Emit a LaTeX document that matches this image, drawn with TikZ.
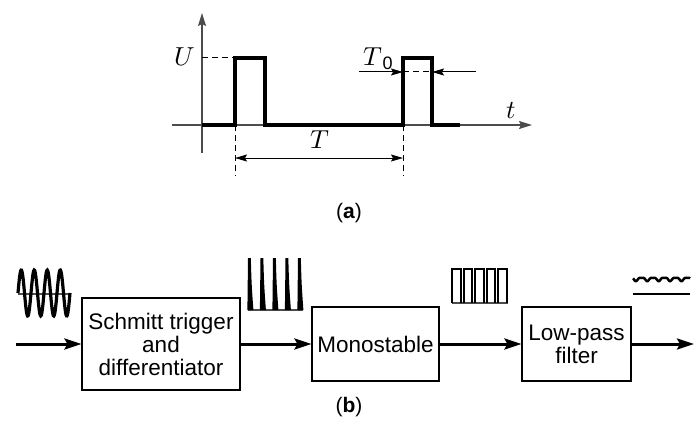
\documentclass[tikz,border=0pt]{standalone}
\usepackage{fontspec}
\setmainfont{Liberation Sans}
\usepackage{unicode-math}
\setmathfont{Latin Modern Math}
\usetikzlibrary{arrows.meta}
\tikzset{
  smalltip/.tip={Stealth[length=12pt,width=7pt,inset=2pt]},
  bigtip/.tip={Stealth[length=17pt,width=11pt,inset=3pt]},
  axtip/.tip={Stealth[length=13pt,width=8pt,inset=2pt]}
}
\begin{document}
\begin{tikzpicture}[x=1pt,y=-1pt,
  axis/.style={line width=1.3pt,black!70},
  signal/.style={line width=3.6pt,line join=miter,line cap=butt},
  dim/.style={line width=1pt,dash pattern=on 6pt off 4pt},
  dimarrow/.style={line width=1pt},
  blockbox/.style={draw,line width=1.1pt,align=center,font=\fontsize{22.5}{23}\selectfont,inner sep=0pt},
  flow/.style={line width=3pt,-bigtip},
  lbl/.style={font=\fontsize{26}{28}\selectfont},
  captext/.style={font=\fontsize{21}{24}\selectfont}]
\useasboundingbox (0,0) rectangle (695,425);
% ---------- (a) ----------
\coordinate (o) at (202,125);
\coordinate (ytop) at (202,13);
\coordinate (ybot) at (202,153);
\coordinate (xl) at (172,125);
\coordinate (xr) at (532,125);
\draw[axis,-axtip] (ybot) -- (ytop);
\draw[axis,-axtip] (xl) -- (xr);
\draw[signal] (202,125) -- (235,125) -- (235,58) -- (265,58) -- (265,125)
  -- (403,125) -- (403,58) -- (432,58) -- (432,125) -- (460,125);
\draw[dim] (202,58) -- (235,58);
\node[lbl] (U) at (185,57) {$U$};
\node[lbl] (tl) at (511,111) {$t$};
% T dimension
\coordinate (d1t) at (235,125); \coordinate (d1b) at (235,176);
\coordinate (d2t) at (403,125); \coordinate (d2b) at (403,176);
\draw[dim] (d1t) -- (d1b);
\draw[dim] (d2t) -- (d2b);
\coordinate (ta) at (235,158); \coordinate (tb) at (403,158);
\draw[dimarrow,smalltip-smalltip] (ta) -- (tb);
\node[lbl] (T) at (320,140) {$T$};
% T0
\coordinate (t0a) at (359,72); \coordinate (t0b) at (403,72);
\coordinate (t0c) at (432,72); \coordinate (t0d) at (476,72);
\draw[dimarrow,-smalltip] (t0a) -- (t0b);
\draw[dimarrow,-smalltip] (t0d) -- (t0c);
\draw[dim] (t0b) -- (t0c);
\node[lbl] (T0) at (378,59) {$T$\raisebox{-4pt}{\fontsize{18}{20}\selectfont 0}};
\node[captext] (capa) at (349,213) {(\textbf{a})};
% ---------- (b) ----------
\node[blockbox,minimum width=158pt,minimum height=92pt] (st) at (161,344)
  {Schmitt trigger\\and\\differentiator};
\node[blockbox,minimum width=127pt,minimum height=74pt] (mono) at (375.5,344) {Monostable};
\node[blockbox,minimum width=109pt,minimum height=74pt] (lp) at (576.5,344) {Low-pass\\filter};
\coordinate (in) at (16,344);
\coordinate (out) at (694,344);
\draw[flow] (in) -- (st.west);
\draw[flow] (st.east) -- (mono.west);
\draw[flow] (mono.east) -- (lp.west);
\draw[flow] (lp.east) -- (out);
% input sine
\draw[line width=1.1pt,black!70] (18,294) -- (70,294);
\draw[line width=3.2pt,smooth,samples=120,domain=18:70] plot (\x,{293-23*sin((\x-18)*27.6923)});
% spikes
\draw[line width=1.3pt,black!70] (248,310) -- (303,310);
\foreach \s in {248,260.5,273,285.5,298}{
  \fill (\s-0.6,310) -- (\s,258) -- (\s+2.8,258) .. controls (\s+3.6,285) .. (\s+5.4,310) -- cycle;
}
% pulses
\draw[line width=1.3pt,black!70] (452,303) -- (508,303);
\foreach \p in {452,463.5,475,486.5,498}{
  \draw[line width=2pt,line join=miter] (\p,303) -- (\p,269) -- (\p+8.5,269) -- (\p+8.5,303);
}
% output ripple
\draw[line width=2.5pt,smooth,samples=150,domain=633:690] plot (\x,{279+1.6*sin((\x-633)*31.58)-0.6*cos((\x-633)*63.16)});
\draw[line width=1.1pt] (633,294) -- (690,294);
\node[captext] (capb) at (349,407) {(\textbf{b})};
\end{tikzpicture}
\end{document}
